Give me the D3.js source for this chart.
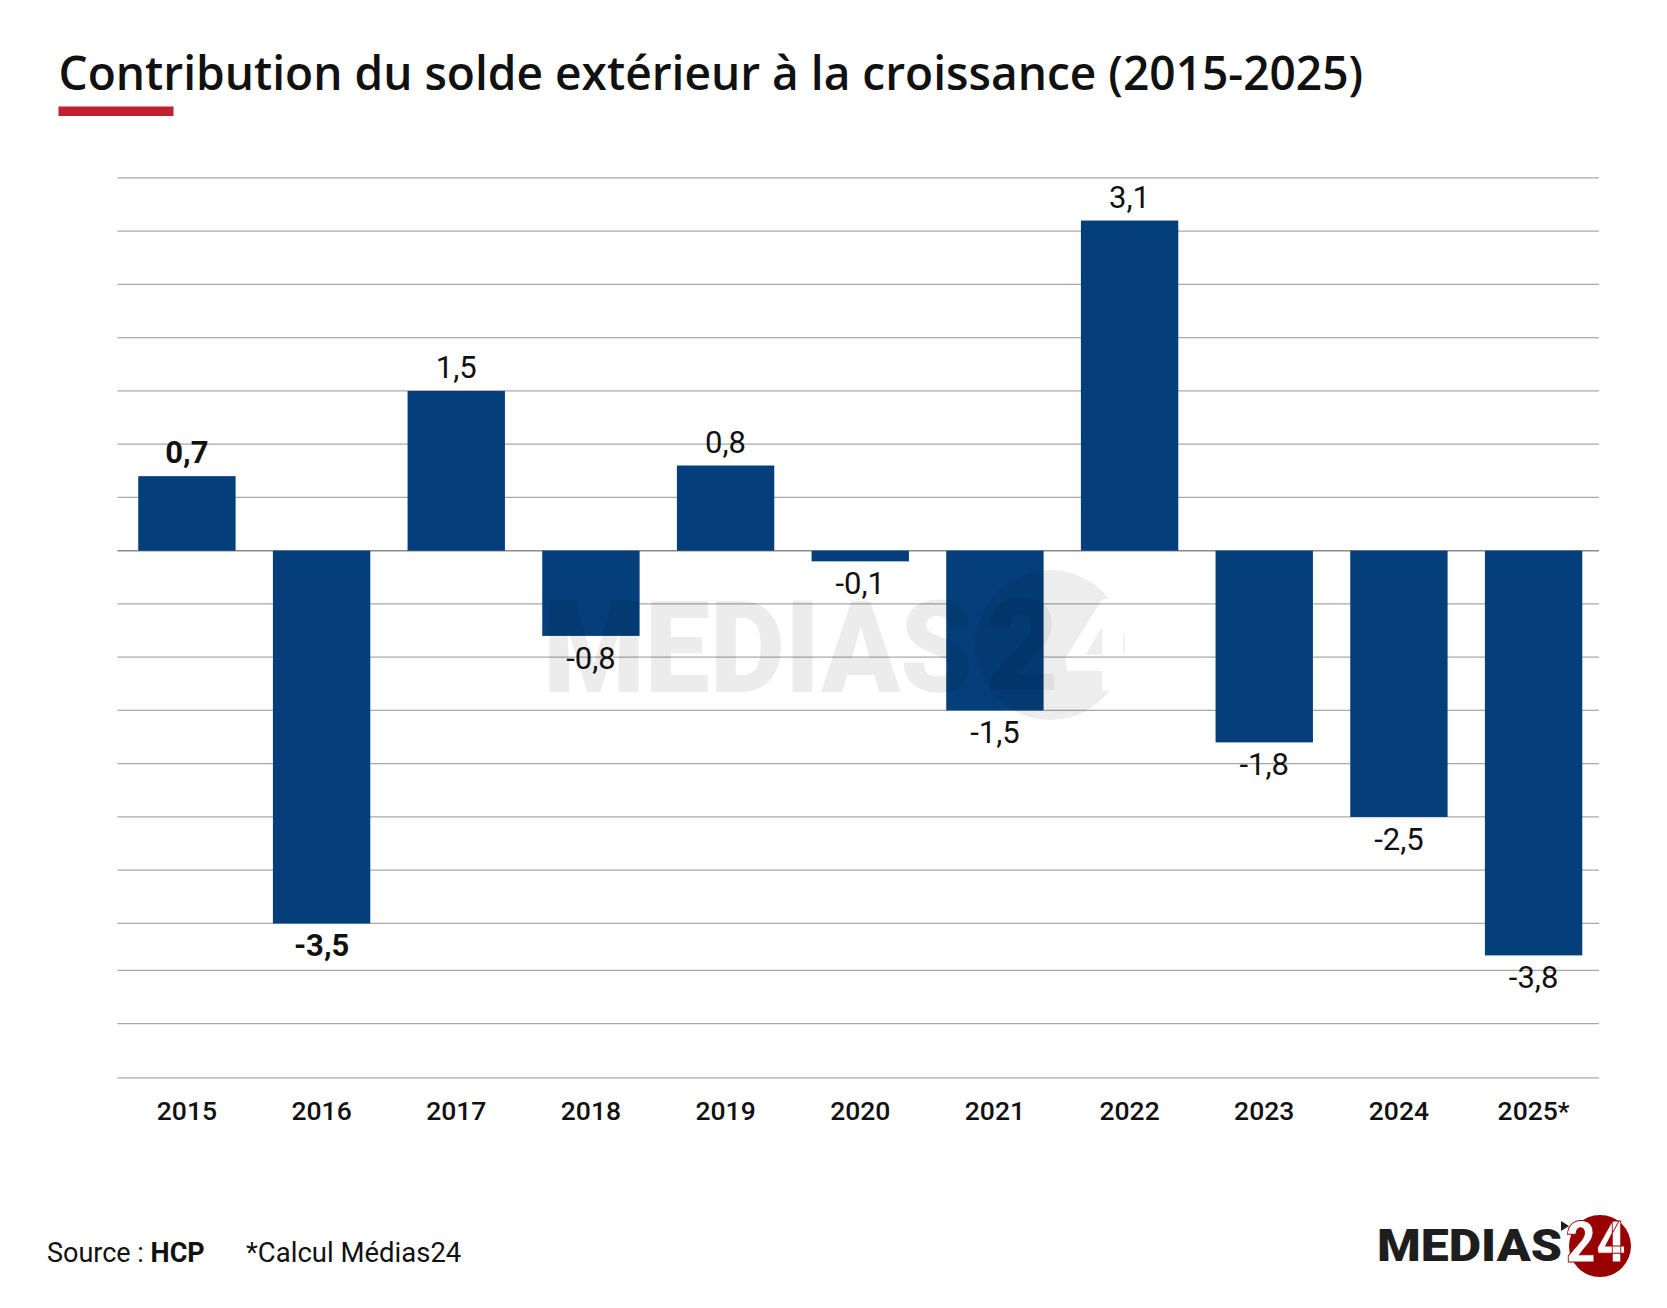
<!DOCTYPE html>
<html>
<head>
<meta charset="utf-8">
<script src="https://cdn.jsdelivr.net/npm/d3@7"></script>
<style>
  html, body { margin: 0; padding: 0; background: #fff; }
  svg { display: block; }
</style>
</head>
<body>
<svg id="chart" width="1667" height="1308"></svg>
<script>
// ---- data ----
const years = ["2015","2016","2017","2018","2019","2020","2021","2022","2023","2024","2025*"];
const contributions = [0.7, -3.5, 1.5, -0.8, 0.8, -0.1, -1.5, 3.1, -1.8, -2.5, -3.8];
const emphasizedYears = ["2015", "2016"];
// gridline levels (the lowest ones are unevenly spaced)
const gridLevels = [-4.95, -4.44, -3.94, -3.5, -3, -2.5, -2, -1.5, -1, -0.5, 0, 0.5, 1, 1.5, 2, 2.5, 3, 3.5];
const titleText = "Contribution du solde extérieur à la croissance (2015-2025)";
const sourceLabel = "Source : ";
const sourceName = "HCP";
const noteText = "*Calcul Médias24";
const brandWord = "MEDIAS";
const brandNumber = "24";

// ---- setup ----
const W = 1667, H = 1308;
const svg = d3.select("#chart");
const frLocale = d3.formatLocale({decimal: ",", thousands: " ", grouping: [3], currency: ["", " €"], minus: "-"});
const fmt = frLocale.format(".1f");

const x = d3.scaleBand().domain(years).range([117.5, 1603]).paddingInner(0.277).paddingOuter(0.154);
const y = d3.scaleLinear().domain([-5, 3.5]).range([1083.2, 177.95]);
const gridLeft = 117.5, gridRight = 1599;

// title
const title = svg.append("text")
  .attr("x", 58.5).attr("y", 90)
  .attr("font-family", "'Open Sans', sans-serif")
  .attr("font-weight", 600)
  .attr("font-size", 52)
  .attr("fill", "#111")
  .text(titleText);
const tw = title.node().getComputedTextLength();
title.attr("font-size", 52 * 1305 / tw);

svg.append("rect").attr("x", 58.5).attr("y", 106.5).attr("width", 115).attr("height", 9.5).attr("fill", "#c2202f");

// gridlines
svg.append("g").selectAll("line").data(gridLevels).join("line")
  .attr("x1", gridLeft).attr("x2", gridRight)
  .attr("y1", d => y(d)).attr("y2", d => y(d))
  .attr("stroke", d => d === 0 ? "#8a8a8a" : "#a8a8a8")
  .attr("stroke-width", d => d === 0 ? 1.6 : 1.2);

// bars
svg.append("g").selectAll("rect").data(contributions).join("rect")
  .attr("x", (d, i) => x(years[i]))
  .attr("width", x.bandwidth())
  .attr("y", d => y(Math.max(0, d)))
  .attr("height", d => Math.abs(y(d) - y(0)))
  .attr("fill", "#043f7b");

// value labels
svg.append("g").selectAll("text").data(contributions).join("text")
  .attr("x", (d, i) => x(years[i]) + x.bandwidth() / 2)
  .attr("y", d => d >= 0 ? y(d) - 13 : y(d) + 33)
  .attr("text-anchor", "middle")
  .attr("font-family", "Roboto, sans-serif")
  .attr("font-size", 31)
  .attr("font-weight", (d, i) => emphasizedYears.includes(years[i]) ? 700 : 400)
  .attr("fill", "#111")
  .text(d => fmt(d));

// x axis
const xAxis = svg.append("g").attr("transform", "translate(0,1120)")
  .call(d3.axisBottom(x).tickSize(0).tickPadding(0));
xAxis.select(".domain").remove();
xAxis.selectAll("text")
  .attr("y", 0).attr("dy", 0)
  .attr("font-family", "Roboto, sans-serif")
  .attr("font-size", 26.5)
  .attr("font-weight", 500)
  .attr("fill", "#111");

// watermark (semi-transparent overlay)
const wm = svg.append("g").attr("pointer-events", "none");
const defs = svg.append("defs");
const mask = defs.append("mask").attr("id", "wmMask").attr("maskUnits", "userSpaceOnUse")
  .attr("x", 0).attr("y", 0).attr("width", W).attr("height", H);
mask.append("rect").attr("x", 0).attr("y", 0).attr("width", W).attr("height", H).attr("fill", "#fff");
mask.append("text")
  .attr("x", 1062).attr("y", 690)
  .attr("font-family", "Roboto, sans-serif").attr("font-weight", 900)
  .attr("font-size", 128)
  .attr("fill", "#000")
  .text(brandNumber.slice(1));
wm.append("text")
  .attr("x", 543).attr("y", 692)
  .attr("font-family", "Roboto, sans-serif").attr("font-weight", 900)
  .attr("font-size", 128)
  .attr("textLength", 430).attr("lengthAdjust", "spacingAndGlyphs")
  .attr("fill", "#000").attr("fill-opacity", 0.075)
  .text(brandWord);
wm.append("circle").attr("cx", 1050).attr("cy", 645).attr("r", 75)
  .attr("fill", "#000").attr("fill-opacity", 0.07).attr("mask", "url(#wmMask)");
wm.append("text")
  .attr("x", 985).attr("y", 690)
  .attr("font-family", "Roboto, sans-serif").attr("font-weight", 900)
  .attr("font-size", 128)
  .attr("fill", "#000").attr("fill-opacity", 0.06)
  .text(brandNumber.slice(0, 1));

// footer
const src = svg.append("text")
  .attr("x", 47).attr("y", 1262)
  .attr("font-family", "Roboto, sans-serif")
  .attr("font-size", 27)
  .attr("fill", "#111");
src.append("tspan").text(sourceLabel);
src.append("tspan").attr("font-weight", 700).text(sourceName);
svg.append("text")
  .attr("x", 246).attr("y", 1262)
  .attr("font-family", "Roboto, sans-serif")
  .attr("font-size", 27.5)
  .attr("fill", "#111")
  .text(noteText);

// brand logo
const logo = svg.append("g");
logo.append("circle").attr("cx", 1600).attr("cy", 1246).attr("r", 31).attr("fill", "#990000");
logo.append("text")
  .attr("x", 1377).attr("y", 1261)
  .attr("font-family", "Roboto, sans-serif").attr("font-weight", 900)
  .attr("font-size", 45)
  .attr("textLength", 185).attr("lengthAdjust", "spacingAndGlyphs")
  .attr("fill", "#1e1e1e")
  .text(brandWord);
logo.append("path")
  .attr("d", "M1561,1221 L1569,1226 L1561,1231 Z")
  .attr("fill", "#1e1e1e");
logo.append("text")
  .attr("x", 1566).attr("y", 1262)
  .attr("font-family", "Roboto, sans-serif").attr("font-weight", 900)
  .attr("font-size", 58)
  .attr("textLength", 60).attr("lengthAdjust", "spacingAndGlyphs")
  .attr("fill", "#fff")
  .attr("stroke", "#990000").attr("stroke-width", 1)
  .text(brandNumber);
</script>
</body>
</html>
